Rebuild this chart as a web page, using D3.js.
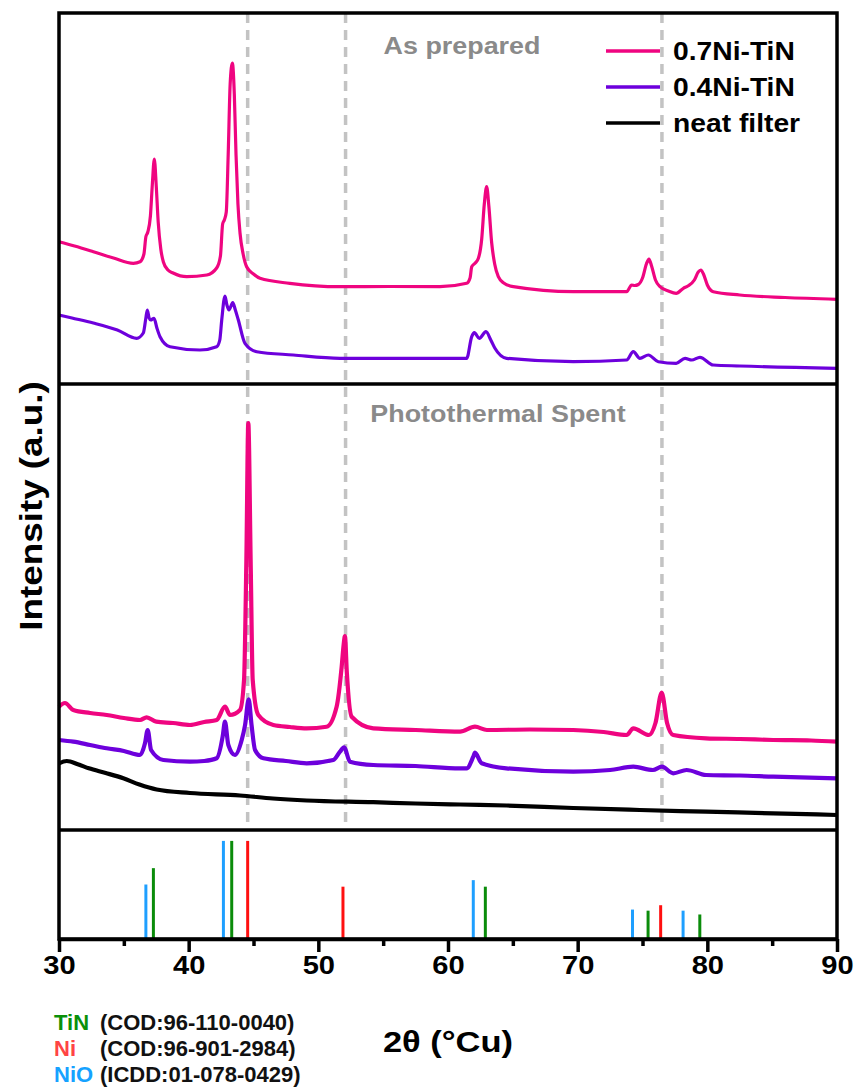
<!DOCTYPE html>
<html>
<head>
<meta charset="utf-8">
<script src="https://cdn.jsdelivr.net/npm/d3@7"></script>
<style>
  html, body { margin: 0; padding: 0; background: #fff; }
  svg { display: block; }
  text { font-family: "Liberation Sans", Arial, sans-serif; font-weight: bold; }
</style>
</head>
<body>
<svg id="chart" width="858" height="1088"></svg>
<script>
// ---- 2θ axis ticks ----
const majorTicks = [30, 40, 50, 60, 70, 80, 90];
const minorTicks = [35, 45, 55, 65, 75, 85];

// ---- As prepared scans: [2θ, counts] ----
const asPrep07 = [
  [30.0,1423],[31.2,1380],[32.65,1323],[34.2,1260],[35.73,1207],[36.25,1223],[36.55,1300],
  [36.7,1473],[36.85,1520],[37.05,1680],[37.2,2000],[37.35,2250],[37.5,1980],[37.65,1620],
  [37.85,1350],[38.05,1220],[38.4,1140],[38.8,1110],[39.85,1073],[41.4,1090],[42.16,1160],
  [42.45,1280],[42.62,1600],[42.75,1640],[42.9,1720],[43.05,2300],[43.2,3000],[43.37,3210],
  [43.52,2900],[43.65,2300],[43.8,1800],[43.96,1510],[44.2,1300],[44.47,1173],[45.0,1100],
  [45.5,1057],[47.8,1007],[51.67,973],[55.5,975],[59.38,973],[61.44,1007],[61.7,1060],
  [61.83,1173],[62.1,1210],[62.35,1260],[62.6,1450],[62.8,1800],[62.98,1973],[63.15,1780],
  [63.37,1410],[63.6,1200],[63.88,1073],[64.3,1010],[65.04,973],[69.66,923],[73.78,923],
  [74.16,990],[74.4,985],[74.68,995],[75.0,1060],[75.3,1200],[75.5,1250],[75.7,1180],
  [76.0,1040],[76.35,973],[77.0,930],[77.6,907],[78.15,957],[78.5,980],[79.0,1040],
  [79.3,1120],[79.5,1140],[79.7,1100],[80.0,990],[80.46,923],[82.5,890],[86.0,865],[90.0,847]
];
const asPrep04 = [
  [30.0,690],[31.0,660],[32.65,610],[34.5,540],[35.99,457],[36.5,510],[36.7,660],[36.81,740],
  [36.95,660],[37.07,640],[37.33,657],[37.55,560],[37.79,473],[38.56,373],[40.87,340],
  [42.16,373],[42.4,440],[42.55,640],[42.8,880],[42.95,790],[43.11,740],[43.4,813],
  [43.6,740],[43.83,640],[44.34,407],[45.25,323],[48.07,290],[51.67,257],[59.38,257],
  [61.44,257],[61.83,473],[62.03,513],[62.41,457],[62.93,523],[63.3,440],[63.62,357],
  [64.52,257],[69.66,223],[73.78,240],[74.29,323],[74.8,257],[75.45,290],[76.22,223],
  [77.6,207],[78.28,257],[78.8,240],[79.43,267],[80.46,190],[82.5,180],[90.0,157]
];

// ---- Photothermal spent scans: [2θ, counts] ----
const spent07 = [
  [30.0,1233],[30.46,1270],[31.1,1200],[32.4,1170],[33.68,1150],[35.0,1120],[36.25,1100],
  [36.76,1127],[37.5,1083],[38.8,1070],[40.1,1050],[41.2,1080],[42.16,1100],[42.8,1233],
  [43.19,1150],[43.96,1200],[44.27,1500],[44.45,2700],[44.6,4070],[44.78,2700],[44.94,1500],
  [45.37,1150],[46.53,1050],[47.8,1030],[49.1,1017],[50.64,1033],[51.41,1233],[51.8,1633],
  [51.95,1850],[52.05,1940],[52.2,1570],[52.57,1133],[54.24,1017],[57.5,1000],[60.93,983],
  [62.08,1033],[63.0,1000],[66.3,1005],[69.66,1000],[72.0,980],[73.78,950],[74.29,1017],
  [75.5,950],[76.0,1070],[76.48,1373],[76.9,1067],[77.37,950],[79.9,917],[82.5,910],
  [85.08,900],[88.0,895],[90.0,883]
];
const spent04 = [
  [30.0,900],[31.1,883],[32.4,850],[33.68,817],[35.0,790],[36.25,750],[36.63,867],[36.84,1000],
  [37.1,800],[38.05,700],[40.1,683],[41.2,690],[42.16,717],[42.62,933],[42.8,1083],[43.06,850],
  [43.57,750],[44.09,900],[44.35,1050],[44.63,1307],[44.85,1050],[45.12,800],[45.77,717],
  [47.5,690],[49.1,667],[51.15,700],[51.67,783],[51.98,827],[52.44,683],[54.24,650],
  [57.5,640],[60.93,617],[61.44,617],[61.95,733],[62.08,773],[62.6,667],[64.5,617],
  [69.66,583],[72.5,600],[74.29,633],[75.8,600],[76.5,633],[77.37,567],[78.4,600],
  [79.9,550],[82.5,545],[85.08,533],[90.0,517]
];
const neatFilter = [
  [30.0,667],[30.6,690],[31.5,655],[32.3,617],[33.6,570],[34.96,517],[36.2,455],[37.53,405],
  [40.1,370],[43.96,345],[46.5,315],[49.1,295],[54.24,278],[57.5,265],[60.93,255],
  [64.52,245],[69.66,220],[74.8,200],[79.9,183],[85.08,167],[90.0,150]
];

// ---- Reference patterns: [2θ, relative intensity] ----
const refTiN = [[37.28,65],[43.32,90],[62.88,48],[75.43,26],[79.42,22.5]];
const refNi  = [[44.55,90],[51.9,48],[76.4,31]];
const refNiO = [[36.7,50],[42.68,90],[61.95,54],[74.23,27],[78.13,26]];

// Ni reflections marked with guide lines
const niGuides = [44.55, 52.1, 76.5];

const legendNames = ["0.7Ni-TiN", "0.4Ni-TiN", "neat filter"];
const refLabels = [
  ["TiN", "(COD:96-110-0040)"],
  ["Ni",  "(COD:96-901-2984)"],
  ["NiO", "(ICDD:01-078-0429)"]
];

// ---- drawing ----
const C_PINK = "#ef0580", C_PURPLE = "#6d00dc", C_BLACK = "#000000";
const C_TIN = "#0b8c0b", C_NI = "#ff1010", C_NIO = "#1e9fff";
const refLegendColors = ["#0a900a", "#ff4444", "#16a2ff"];

const L = 59, R = 837, T = 13, D1 = 384, D2 = 830, B = 939;
const svg = d3.select("#chart");

const x = d3.scaleLinear().domain([30, 90]).range([L, R]);
const yTop = d3.scaleLinear().domain([0, 3710]).range([D1, T]);
const yMid = d3.scaleLinear().domain([0, 4460]).range([D2, D1]);
const yRef = d3.scaleLinear().domain([0, 100]).range([B, D2]);

// dashed guides through both scan panels
svg.append("g").selectAll("line").data(niGuides).join("line")
  .attr("x1", d => x(d)).attr("x2", d => x(d))
  .attr("y1", T).attr("y2", D2)
  .attr("stroke", "#c3c3c3").attr("stroke-width", 3.5)
  .attr("stroke-dasharray", "10,7");

// panel titles
svg.append("text").attr("transform", `translate(462,54) scale(1.12,1)`)
  .attr("text-anchor", "middle").attr("font-size", 24).attr("fill", "#8a8a8a")
  .text("As prepared");
svg.append("text").attr("transform", `translate(498,422) scale(1.12,1)`)
  .attr("text-anchor", "middle").attr("font-size", 24).attr("fill", "#8a8a8a")
  .text("Photothermal Spent");

const lineTop = d3.line().x(d => x(d[0])).y(d => yTop(d[1])).curve(d3.curveMonotoneX);
const lineMid = d3.line().x(d => x(d[0])).y(d => yMid(d[1])).curve(d3.curveMonotoneX);

const curves = svg.append("g").attr("fill", "none").attr("stroke-linejoin", "round");
curves.append("path").attr("d", lineTop(asPrep07)).attr("stroke", C_PINK).attr("stroke-width", 3.2);
curves.append("path").attr("d", lineTop(asPrep04)).attr("stroke", C_PURPLE).attr("stroke-width", 3.2);
curves.append("path").attr("d", lineMid(neatFilter)).attr("stroke", C_BLACK).attr("stroke-width", 4.2);
curves.append("path").attr("d", lineMid(spent04)).attr("stroke", C_PURPLE).attr("stroke-width", 4.2);
curves.append("path").attr("d", lineMid(spent07)).attr("stroke", C_PINK).attr("stroke-width", 4.2);

// reference sticks
const sticks = [
  ...refNiO.map(d => ({ t: d[0], v: d[1], c: C_NIO })),
  ...refTiN.map(d => ({ t: d[0], v: d[1], c: C_TIN })),
  ...refNi.map(d => ({ t: d[0], v: d[1], c: C_NI }))
];
svg.append("g").selectAll("line").data(sticks).join("line")
  .attr("x1", d => x(d.t)).attr("x2", d => x(d.t))
  .attr("y1", yRef(0)).attr("y2", d => yRef(d.v))
  .attr("stroke", d => d.c).attr("stroke-width", 3);

// frame and panel dividers
const frame = svg.append("g").attr("stroke", "#000").attr("stroke-width", 3.5).attr("fill", "none");
frame.append("rect").attr("x", L).attr("y", T).attr("width", R - L).attr("height", B - T);
frame.append("line").attr("x1", L).attr("x2", R).attr("y1", D1).attr("y2", D1);
frame.append("line").attr("x1", L).attr("x2", R).attr("y1", D2).attr("y2", D2);

// bottom axis
const axisMajor = svg.append("g").attr("transform", `translate(0,${B})`)
  .call(d3.axisBottom(x).tickValues(majorTicks).tickSize(13).tickSizeOuter(0)
    .tickPadding(4).tickFormat(d3.format("d")));
axisMajor.select(".domain").attr("stroke-width", 3.5);
axisMajor.selectAll(".tick line").attr("stroke-width", 3.5);
axisMajor.selectAll(".tick text")
  .attr("font-size", 26).attr("font-family", "Liberation Sans, Arial, sans-serif")
  .attr("font-weight", "bold").attr("fill", "#000")
  .attr("transform", "scale(1.12,1)");
const axisMinor = svg.append("g").attr("transform", `translate(0,${B})`)
  .call(d3.axisBottom(x).tickValues(minorTicks).tickSize(7).tickSizeOuter(0).tickFormat(""));
axisMinor.select(".domain").remove();
axisMinor.selectAll(".tick line").attr("stroke-width", 3.5);

// axis titles
svg.append("text").attr("transform", `translate(448,1052) scale(1.15,1)`)
  .attr("text-anchor", "middle").attr("font-size", 30).text("2θ (°Cu)");
svg.append("text").attr("transform", `translate(42,506) rotate(-90) scale(1.15,1)`)
  .attr("text-anchor", "middle").attr("font-size", 32).text("Intensity (a.u.)");

// series legend
const legColors = [C_PINK, C_PURPLE, C_BLACK];
const legBase = [60, 96, 132];
const leg = svg.append("g");
legendNames.forEach((name, i) => {
  leg.append("line").attr("x1", 606).attr("x2", 660)
    .attr("y1", legBase[i] - 9).attr("y2", legBase[i] - 9)
    .attr("stroke", legColors[i]).attr("stroke-width", 3.5);
  leg.append("text").attr("transform", `translate(673,${legBase[i]}) scale(1.13,1)`)
    .attr("font-size", 25).text(name);
});

// reference pattern legend
const refBase = [1030, 1056, 1082];
refLabels.forEach((r, i) => {
  svg.append("text").attr("x", 54).attr("y", refBase[i]).attr("font-size", 22)
    .attr("fill", refLegendColors[i]).text(r[0]);
  svg.append("text").attr("x", 100).attr("y", refBase[i]).attr("font-size", 22)
    .attr("fill", "#111").text(r[1]);
});
</script>
</body>
</html>
